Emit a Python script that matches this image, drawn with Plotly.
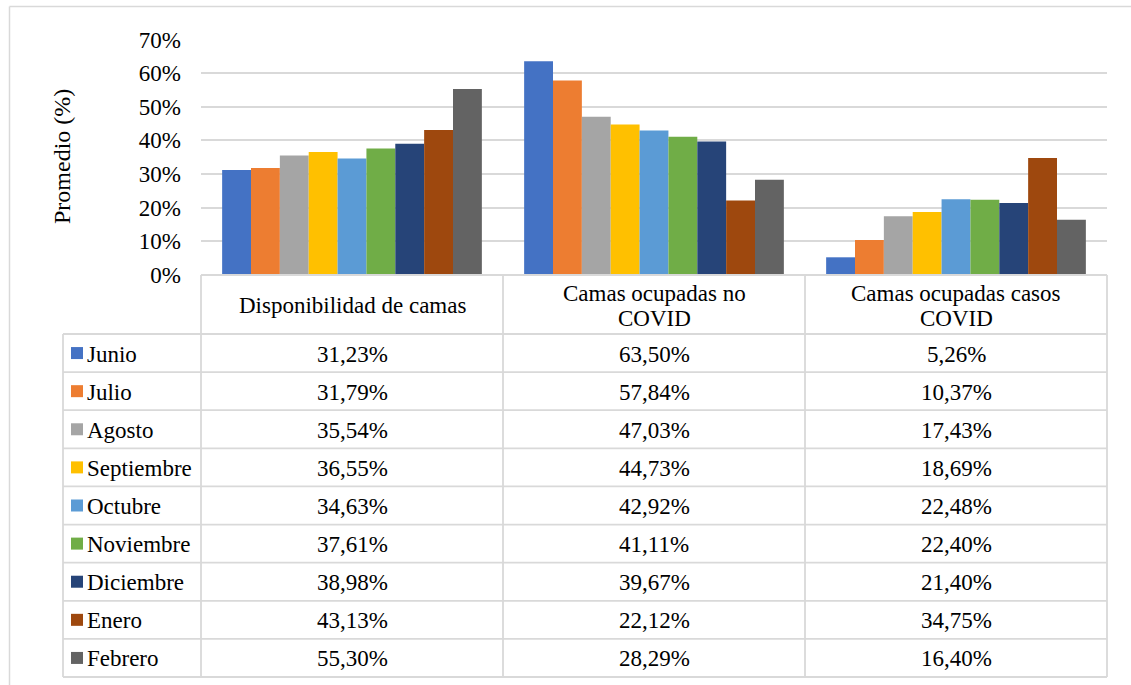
import plotly.graph_objects as go

categories = ["Disponibilidad de camas", "Camas ocupadas no COVID", "Camas ocupadas casos COVID"]
header_labels = [["Disponibilidad de camas"], ["Camas ocupadas no", "COVID"], ["Camas ocupadas casos", "COVID"]]
months = ["Junio", "Julio", "Agosto", "Septiembre", "Octubre", "Noviembre", "Diciembre", "Enero", "Febrero"]
disponibilidad = [31.23, 31.79, 35.54, 36.55, 34.63, 37.61, 38.98, 43.13, 55.30]
no_covid = [63.50, 57.84, 47.03, 44.73, 42.92, 41.11, 39.67, 22.12, 28.29]
casos_covid = [5.26, 10.37, 17.43, 18.69, 22.48, 22.40, 21.40, 34.75, 16.40]
colors = ["#4472C4", "#ED7D31", "#A5A5A5", "#FFC000", "#5B9BD5", "#70AD47", "#264478", "#9E480E", "#636363"]
y_ticks = [0, 10, 20, 30, 40, 50, 60, 70]
y_tick_labels = ["0%", "10%", "20%", "30%", "40%", "50%", "60%", "70%"]

W, H = 1131, 685
FONT = "Liberation Serif"
GRID = "#d9d9d9"

def px(x):
    return x / W

def py(y):
    return 1 - y / H

fig = go.Figure()
for i, m in enumerate(months):
    vals = [disponibilidad[i], no_covid[i], casos_covid[i]]
    fig.add_trace(go.Bar(x=categories, y=vals, name=m, marker_color=colors[i],
                         marker_line_width=0, showlegend=False))

plot_left, plot_right = 201, 1107
plot_top, plot_bottom = 39.5, 275
table_left = 63
header_bottom = 334
table_bottom = 677
row_h = (table_bottom - header_bottom) / len(months)
col_edges = [201, 503, 805, 1107]

fig.update_layout(
    width=W, height=H,
    autosize=False,
    margin=dict(l=0, r=0, t=0, b=0, pad=0, autoexpand=False),
    paper_bgcolor="white", plot_bgcolor="white",
    showlegend=False,
    barmode="group", bargap=0.14, bargroupgap=0,
    font=dict(family=FONT, size=23, color="black"),
    xaxis=dict(domain=[px(plot_left), px(plot_right)], showticklabels=False, automargin=False,
               showgrid=False, zeroline=False, showline=False, ticks=""),
    yaxis=dict(domain=[py(plot_bottom), py(plot_top)], range=[0, 70], automargin=False,
               tickvals=y_ticks, ticktext=y_tick_labels, showgrid=True, gridcolor=GRID,
               gridwidth=1.5, zeroline=False, showline=False, ticks="",
               ticklabelstandoff=19, tickfont=dict(family=FONT, size=23)),
)

shapes = []
line = dict(color=GRID, width=1.8)
border = dict(color=GRID, width=1.5)
# outer chart border (top and left visible)
shapes.append(dict(type="line", xref="paper", yref="paper", x0=px(9.5), x1=1,
                   y0=py(6.5), y1=py(6.5), line=border))
shapes.append(dict(type="line", xref="paper", yref="paper", x0=px(9.5), x1=px(9.5),
                   y0=py(6.5), y1=0, line=border))
# table
shapes.append(dict(type="line", xref="paper", yref="paper", x0=px(plot_left), x1=px(plot_right),
                   y0=py(plot_bottom), y1=py(plot_bottom), line=line))
for k in range(len(months) + 1):
    yy = header_bottom + k * row_h
    shapes.append(dict(type="line", xref="paper", yref="paper", x0=px(table_left), x1=px(plot_right),
                       y0=py(yy), y1=py(yy), line=line))
shapes.append(dict(type="line", xref="paper", yref="paper", x0=px(table_left), x1=px(table_left),
                   y0=py(header_bottom), y1=py(table_bottom), line=line))
for xe in col_edges:
    shapes.append(dict(type="line", xref="paper", yref="paper", x0=px(xe), x1=px(xe),
                       y0=py(plot_bottom), y1=py(table_bottom), line=line))

annotations = []
annotations.append(dict(text="Promedio (%)", xref="paper", yref="paper", x=px(62), y=py(157),
                        textangle=-90, showarrow=False, font=dict(family=FONT, size=24),
                        xanchor="center", yanchor="middle"))
header_cy = (plot_bottom + header_bottom) / 2 + 1.5
for j, lines in enumerate(header_labels):
    cx = (col_edges[j] + col_edges[j + 1]) / 2
    n = len(lines)
    for li, txt in enumerate(lines):
        yy = header_cy + (li - (n - 1) / 2) * 25.5
        annotations.append(dict(text=txt, xref="paper", yref="paper", x=px(cx), y=py(yy),
                                showarrow=False, font=dict(family=FONT, size=23),
                                xanchor="center", yanchor="middle"))

series = [disponibilidad, no_covid, casos_covid]
for i, m in enumerate(months):
    cy = header_bottom + (i + 0.5) * row_h
    shapes.append(dict(type="rect", xref="paper", yref="paper", x0=px(71), x1=px(83),
                       y0=py(cy + 6), y1=py(cy - 6), fillcolor=colors[i], line=dict(width=0)))
    annotations.append(dict(text=m, xref="paper", yref="paper", x=px(85), y=py(cy + 1),
                            showarrow=False, font=dict(family=FONT, size=23),
                            xanchor="left", yanchor="middle"))
    for j in range(3):
        cx = (col_edges[j] + col_edges[j + 1]) / 2
        txt = f"{series[j][i]:.2f}%".replace(".", ",")
        annotations.append(dict(text=txt, xref="paper", yref="paper", x=px(cx), y=py(cy + 1),
                                showarrow=False, font=dict(family=FONT, size=23),
                                xanchor="center", yanchor="middle"))

fig.update_layout(shapes=shapes, annotations=annotations)
fig.write_html("out.html", config={"displayModeBar": False},
               post_script="document.body.style.margin='0';")
